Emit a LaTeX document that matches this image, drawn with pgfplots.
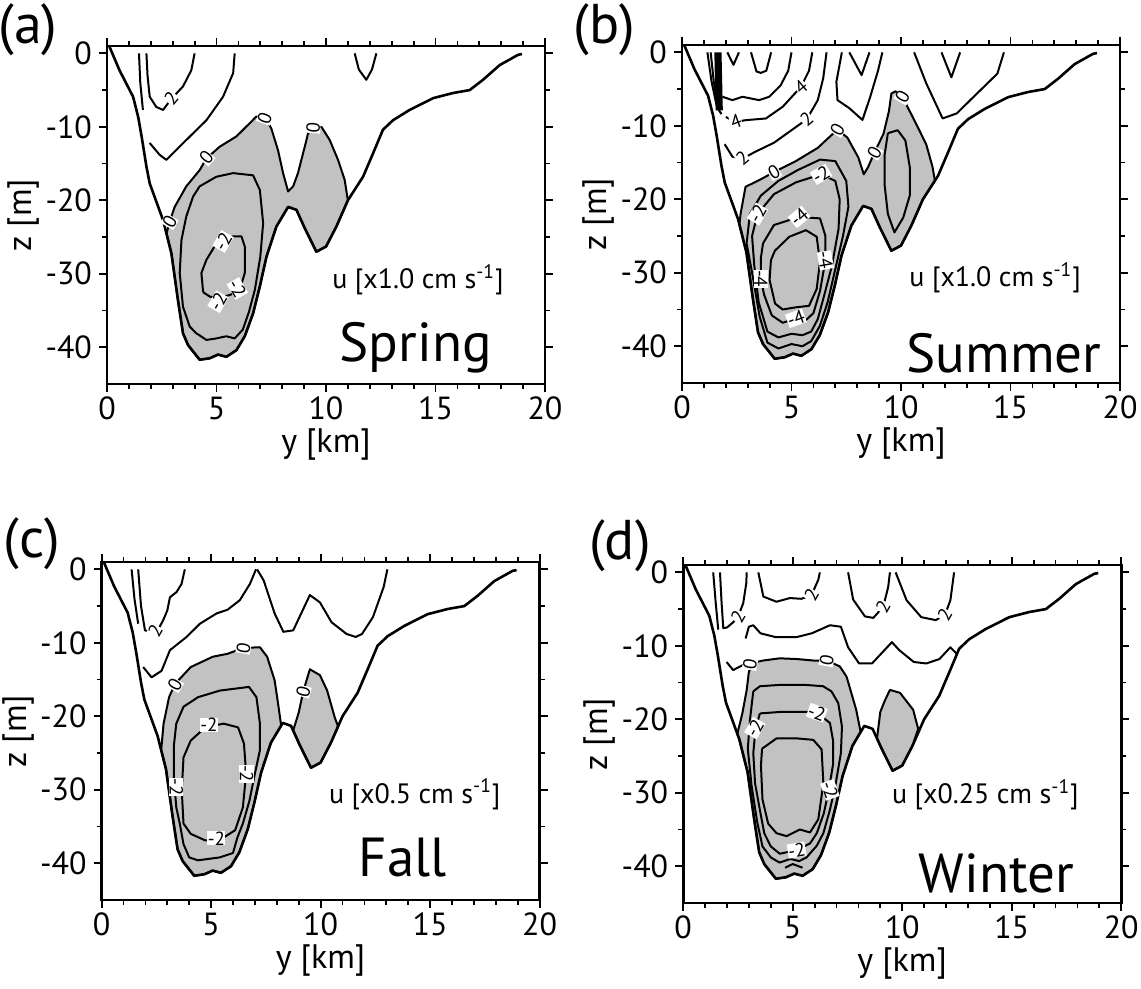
\documentclass[border=0pt]{standalone}
\usepackage{pgfplots}
\pgfplotsset{compat=1.18}
\usepackage{pgfplotstable}
\usepackage{fontspec}
\setmainfont{PT Sans}

\definecolor{shade}{gray}{0.76}

% bottom topography, shared by the four panels
\pgfplotstableread{
y z
0.10 1.0
0.57 -2.3
1.19 -5.9
1.42 -8.6
1.58 -11.3
1.80 -15.4
1.95 -17.7
2.56 -22.7
2.94 -27.2
3.24 -33.6
3.47 -38.1
3.70 -39.7
4.23 -41.7
4.69 -41.5
5.07 -41.0
5.45 -41.3
5.91 -40.4
6.29 -38.5
6.67 -35.4
6.98 -31.7
7.28 -27.7
7.73 -23.6
8.27 -20.9
8.65 -21.3
9.03 -23.8
9.56 -27.0
10.00 -26.3
10.47 -23.6
11.00 -20.0
11.69 -16.8
12.15 -13.6
12.60 -10.4
13.06 -9.1
13.82 -7.7
14.89 -6.1
15.80 -5.4
16.56 -5.0
17.17 -3.6
17.93 -1.6
18.77 -0.2
18.95 -0.1
}\bathy

\pgfplotsset{
  panel/.style={
    scale only axis, width=219pt, height=169pt,
    anchor=north west,
    xmin=0, xmax=20, ymin=-45, ymax=1,
    xtick={0,5,...,20}, ytick={-40,-30,...,0},
    minor x tick num=4, minor y tick num=1,
    tick align=outside, tick pos=both,
    major tick length=4pt, minor tick length=2.5pt,
    tick style={black, line width=0.9pt},
    axis line style={line width=1.4pt},
    /pgf/number format/assume math mode=true,
    ticklabel style={font=\fontsize{16}{16}\selectfont},
    xticklabel style={yshift=1pt},
    label style={font=\fontsize{17}{17}\selectfont},
    xlabel={y [km]}, ylabel={z [m]},
    xlabel style={at={(axis description cs:0.5,-0.18)}, anchor=center},
    ylabel style={at={(axis description cs:-0.19,0.5)}, anchor=center},
  },
  cont/.style={black, line width=1pt, line join=round, mark=none},
  zero/.style={fill=shade, draw=black, line width=1pt, line join=round, mark=none},
  bot/.style={black, line width=1.3pt, line join=round, mark=none},
}
\tikzset{
  lbl/.style={fill=white, inner sep=0.2pt, font=\fontsize{9.5}{9.5}\selectfont},
  unit/.style={font=\fontsize{14}{14}\selectfont},
  season/.style={font=\fontsize{27.5}{27.5}\selectfont},
  plabel/.style={font=\fontsize{28}{28}\selectfont},
}

\begin{document}
\begin{tikzpicture}
\useasboundingbox (0,0) rectangle (570.5pt,-494.5pt);

%% (a) Spring
\begin{axis}[panel, at={(53.5pt,-23pt)}]
\addplot[zero] coordinates {(2.72,-24.5)(2.86,-22.9)(3.09,-20.9)(3.62,-18.1)(4.23,-15.9)(4.54,-14.3)(5.15,-12.7)(5.91,-11.3)(6.52,-9.5)(6.82,-8.6)(7.2,-8.7)(7.5,-10.2)(7.81,-13.2)(8.04,-16.3)(8.27,-18.8)(8.5,-18.1)(8.72,-16.3)(9.03,-12.7)(9.18,-10.9)(9.41,-10.1)(9.79,-10.0)(10.17,-11.8)(10.55,-14.5)(10.85,-17.2)(11.0,-20.0)(10.47,-23.6)(10.0,-26.3)(9.56,-27.0)(9.03,-23.8)(8.65,-21.3)(8.27,-20.9)(7.73,-23.6)(7.28,-27.7)(6.98,-31.7)(6.67,-35.4)(6.29,-38.5)(5.91,-40.4)(5.45,-41.3)(5.07,-41.0)(4.69,-41.5)(4.23,-41.7)(3.7,-39.7)(3.47,-38.1)(3.24,-33.6)(2.94,-27.2)} -- cycle;
\addplot[cont] coordinates {(1.46,0)(1.52,-4)(1.64,-7.7)};
\addplot[cont] coordinates {(1.8,0)(1.85,-3)(1.95,-5.9)(2.25,-7.3)(2.56,-7.7)(2.94,-6.2)(3.47,-4.5)(3.85,-2.3)(4.0,0)};
\addplot[cont] coordinates {(5.83,0)(5.76,-2.7)(5.3,-5.9)(4.54,-9.1)(3.62,-11.8)(2.71,-14.5)(2.4,-13.8)(1.95,-12.2)};
\addplot[cont] coordinates {(11.31,0)(11.5,-2.2)(11.84,-3.6)(12.1,-2.2)(12.3,0)};
\addplot[cont] coordinates {(4.23,-18.1)(4.99,-16.8)(5.76,-16.3)(6.67,-16.6)(6.98,-18.6)(7.13,-23.1)(7.0,-27.7)(6.75,-32.2)(6.48,-35.2)(6.2,-37.6)(5.83,-38.8)(5.45,-38.5)(4.99,-38.8)(4.54,-39.0)(4.08,-38.1)(3.78,-37.2)(3.47,-34.5)(3.32,-29.9)(3.4,-25.4)(3.62,-22.2)(3.93,-19.5)(4.23,-18.1)};
\addplot[cont] coordinates {(4.39,-32.5)(4.31,-29.9)(4.54,-28.1)(4.99,-25.9)(5.3,-25.4)(5.76,-24.9)(6.14,-24.9)(6.29,-26.3)(6.29,-29.9)(6.06,-32.2)(5.6,-32.9)(5.07,-33.3)(4.69,-33.1)(4.39,-32.5)};
\addplot[bot] table[x=y, y=z] {\bathy};
\node[lbl, rotate=50] at (axis cs:2.94,-6.1) {2};
\node[lbl, rotate=60] at (axis cs:2.86,-22.9) {0};
\node[lbl, rotate=50] at (axis cs:4.54,-14.2) {0};
\node[lbl, rotate=70] at (axis cs:7.2,-8.8) {0};
\node[lbl, rotate=85] at (axis cs:9.41,-10.1) {0};
\node[lbl, rotate=60] at (axis cs:5.3,-25.6) {-2};
\node[lbl, rotate=-60] at (axis cs:5.95,-32.0) {-2};
\node[lbl, rotate=60] at (axis cs:5.07,-33.8) {-2};
\node[unit] at (axis cs:14.2,-30.8) {u [x1.0 cm s\textsuperscript{-1}]};
\node[season] at (axis cs:14.1,-40.0) {Spring};
\end{axis}
\node[plabel] at (14pt,-15pt) {(a)};

%% (b) Summer
\begin{axis}[panel, at={(341pt,-22.5pt)}]
\addplot[zero] coordinates {(2.62,-23.4)(2.68,-21.9)(2.9,-18.3)(3.52,-17.4)(4.2,-16.3)(5.2,-14.8)(6.2,-13.0)(7.1,-10.5)(7.55,-11.6)(8.05,-14.3)(8.3,-16.6)(8.5,-15.6)(8.79,-13.6)(9.2,-11.1)(9.45,-8)(9.56,-5.6)(9.75,-5.3)(10.07,-6.1)(10.55,-8.9)(11.15,-12.5)(11.44,-15.6)(11.55,-17.5)(11.0,-20.0)(10.47,-23.6)(10.0,-26.3)(9.56,-27.0)(9.03,-23.8)(8.65,-21.3)(8.27,-20.9)(7.73,-23.6)(7.28,-27.7)(6.98,-31.7)(6.67,-35.4)(6.29,-38.5)(5.91,-40.4)(5.45,-41.3)(5.07,-41.0)(4.69,-41.5)(4.23,-41.7)(3.7,-39.7)(3.47,-38.1)(3.24,-33.6)(2.94,-27.2)} -- cycle;
% crowded lines near the left bank
\addplot[cont] coordinates {(1.16,0)(1.35,-4)(1.6,-7.5)(1.8,-8.4)};
\addplot[cont] coordinates {(1.31,0)(1.45,-4)(1.6,-7.0)};
\addplot[black, line width=3.6pt] coordinates {(1.64,0)(1.70,-7.9)};
\addplot[cont] coordinates {(2.07,0)(2.35,-1.7)(2.6,0)};
\addplot[cont] coordinates {(3.15,0)(3.4,-2.6)(3.6,-2.8)(3.85,-2.5)(4.07,0)};
\addplot[cont] coordinates {(1.85,-6.05)(2.3,-6.5)(2.76,-6.05)(3.52,-6.5)(3.98,-6.05)(4.5,-4.5)(4.85,-2.5)(5.0,0)};
\addplot[cont] coordinates {(2.0,-8.8)(2.46,-9.46)(2.91,-9.23)(3.83,-9.0)(4.6,-7.4)(5.43,-4.7)(5.8,-2.5)(5.95,0)};
\addplot[cont] coordinates {(1.95,-12.5)(2.3,-14.2)(2.76,-14.5)(3.3,-13.6)(4.2,-12.3)(5.0,-10.6)(5.7,-9.1)(6.2,-6.5)(6.45,-3.5)(6.6,0)};
\addplot[cont] coordinates {(7.3,0)(7.05,-4)(7.1,-6.5)(7.64,-7.6)(8.24,-9.2)(8.6,-6)(8.95,-2.5)(9.15,0)};
\addplot[cont] coordinates {(7.64,0)(8.2,-3.1)(8.56,0)};
\addplot[cont] coordinates {(10.6,0)(11.15,-4.2)(11.9,-9)(12.55,-8.3)(13.3,-6.1)(14.4,-2.9)(14.7,0)};
\addplot[cont] coordinates {(11.85,0)(12.3,-3.4)(12.7,0)};
% negative core
\addplot[cont] coordinates {(2.95,-26)(3.1,-22)(3.6,-19.5)(4.4,-17.5)(5.3,-16)(6.3,-14.6)(7.0,-14.8)(7.5,-17.5)(7.6,-21)(7.35,-25)(7.0,-29.5)(6.65,-34)(6.3,-37.2)(5.9,-39.3)(5.5,-40)(5.0,-39.7)(4.4,-40.3)(3.9,-39.5)(3.55,-36)(3.2,-30)(2.95,-26)};
\addplot[cont] coordinates {(3.2,-25)(3.45,-22)(4.2,-19.3)(5.2,-17.7)(6.35,-16.6)(7.0,-17.5)(7.2,-20)(7.15,-24)(6.85,-29)(6.5,-33)(6.2,-36.3)(5.9,-38)(5.5,-38.5)(5.0,-38.3)(4.4,-38.8)(3.9,-38)(3.5,-34)(3.3,-29)(3.2,-25)};
\addplot[cont] coordinates {(3.7,-26)(4.2,-23.5)(5.35,-22.4)(6.3,-22.6)(6.55,-25)(6.55,-28.3)(6.3,-32.5)(6.0,-35.5)(5.6,-36.6)(5.2,-36.2)(4.6,-36.8)(4.1,-35.8)(3.75,-33)(3.6,-30.8)(3.6,-28)(3.7,-26)};
\addplot[cont] coordinates {(4.06,-28.3)(4.24,-27)(4.9,-25.1)(5.66,-24.2)(6.15,-25.1)(6.3,-28.5)(6.15,-32.2)(5.8,-34.5)(5.2,-34.7)(4.6,-35)(4.25,-34.2)(4.0,-31)(4.06,-28.3)};
\addplot[cont] coordinates {(9.4,-11)(9.85,-10.6)(10.2,-12)(10.4,-15.6)(10.4,-19.5)(10.1,-22.5)(9.7,-24.5)(9.4,-22)(9.25,-18)(9.25,-14)(9.4,-11)};
\addplot[bot] table[x=y, y=z] {\bathy};
\node[lbl, rotate=20] at (axis cs:2.46,-9.4) {4};
\node[lbl, rotate=40] at (axis cs:5.43,-4.7) {4};
\node[lbl, rotate=40] at (axis cs:2.76,-14.4) {2};
\node[lbl, rotate=40] at (axis cs:5.7,-9.1) {2};
\node[lbl, rotate=30] at (axis cs:4.2,-16.3) {0};
\node[lbl, rotate=60] at (axis cs:7.1,-10.5) {0};
\node[lbl, rotate=60] at (axis cs:8.79,-13.6) {0};
\node[lbl, rotate=60] at (axis cs:10.07,-6.1) {0};
\node[lbl, rotate=60] at (axis cs:3.45,-22) {-2};
\node[lbl, rotate=30] at (axis cs:6.35,-16.6) {-2};
\node[lbl, rotate=40] at (axis cs:5.35,-22.4) {-4};
\node[lbl, rotate=-80] at (axis cs:6.55,-28.3) {-4};
\node[lbl, rotate=-90] at (axis cs:3.6,-30.8) {-4};
\node[lbl, rotate=20] at (axis cs:5.2,-36.2) {-4};
\node[unit] at (axis cs:14.3,-30.7) {u [x1.0 cm s\textsuperscript{-1}]};
\node[season] at (axis cs:14.7,-40.9) {Summer};
\end{axis}
\node[plabel] at (302pt,-15pt) {(b)};

%% (c) Fall
\begin{axis}[panel, at={(50.8pt,-281pt)}]
\addplot[zero] coordinates {(2.72,-24.6)(2.83,-21.0)(3.08,-17.4)(3.35,-15.6)(4.07,-13.3)(5.07,-11.9)(5.74,-11.5)(6.48,-10.7)(7.23,-10.6)(7.56,-11.9)(7.9,-15.1)(8.06,-18.3)(8.2,-21.3)(7.73,-23.6)(7.28,-27.7)(6.98,-31.7)(6.67,-35.4)(6.29,-38.5)(5.91,-40.4)(5.45,-41.3)(5.07,-41.0)(4.69,-41.5)(4.23,-41.7)(3.7,-39.7)(3.47,-38.1)(3.24,-33.6)(2.94,-27.2)} -- cycle;
\addplot[zero] coordinates {(8.75,-21.9)(9.0,-19.5)(9.21,-16.6)(9.51,-13.6)(9.97,-14.4)(10.3,-16.5)(10.65,-20.2)(10.8,-21.4)(10.47,-23.6)(10.0,-26.3)(9.56,-27.0)(9.03,-23.8)} -- cycle;
\addplot[cont] coordinates {(1.37,0)(1.5,-4)(1.67,-7.4)};
\addplot[cont] coordinates {(1.67,0)(1.8,-5)(1.98,-8.3)(2.3,-8.6)(2.56,-8.3)(2.8,-7)(3.0,-5.6)(3.12,-3.8)(3.42,-3.1)(3.65,-2.0)(3.8,0)};
\addplot[cont] coordinates {(1.9,-13.3)(2.28,-14.7)(2.74,-13.8)(3.12,-11.0)(3.88,-9.2)(4.49,-7.4)(5.25,-6.0)(5.75,-5.5)(6.31,-4.2)(6.77,-2.0)(7.05,0)};
\addplot[cont] coordinates {(7.1,0)(7.4,-1.5)(7.9,-6)(8.3,-8.5)(8.75,-8.3)(9.51,-3.5)(9.97,-4.5)(10.5,-7.2)(11.19,-8.8)(11.6,-9.2)(11.89,-8.8)(12.39,-6.5)(12.88,-2.4)(13.05,0)};
\addplot[cont] coordinates {(3.41,-21.0)(3.74,-18.7)(4.4,-17.4)(5.4,-16.5)(6.73,-16.0)(7.07,-17.4)(7.23,-21.0)(7.23,-24.6)(7.0,-27.8)(6.75,-31.5)(6.45,-34.6)(6.2,-36.5)(6.0,-38.6)(5.4,-39.2)(4.9,-39.4)(4.4,-39.6)(4.0,-39.2)(3.74,-37.4)(3.57,-34.6)(3.41,-32.4)(3.3,-28.3)(3.3,-24)(3.41,-21.0)};
\addplot[cont] coordinates {(3.74,-34.6)(3.66,-30.1)(3.74,-25.6)(4.07,-23.3)(4.74,-21.5)(5.57,-21.0)(6.23,-21.5)(6.5,-23.7)(6.6,-27.8)(6.45,-32.4)(6.1,-35.5)(5.57,-36.5)(4.74,-36.9)(4.07,-36.0)(3.74,-34.6)};
\addplot[bot] table[x=y, y=z] {\bathy};
\node[lbl, rotate=60] at (axis cs:2.45,-8.4) {2};
\node[lbl, rotate=60] at (axis cs:3.35,-15.7) {0};
\node[lbl, rotate=80] at (axis cs:6.48,-10.7) {0};
\node[lbl, rotate=75] at (axis cs:9.21,-16.6) {0};
\node[lbl] at (axis cs:4.9,-21.2) {-2};
\node[lbl, rotate=-90] at (axis cs:6.62,-27.8) {-2};
\node[lbl, rotate=-90] at (axis cs:3.41,-29.6) {-2};
\node[lbl] at (axis cs:5.24,-36.6) {-2};
\node[unit] at (axis cs:14.3,-30.6) {u [x0.5 cm s\textsuperscript{-1}]};
\node[season] at (axis cs:13.75,-39.2) {Fall};
\end{axis}
\node[plabel] at (16pt,-272pt) {(c)};

%% (d) Winter
\begin{axis}[panel, at={(341.6pt,-282.5pt)}]
\addplot[zero] coordinates {(2.47,-22.0)(2.7,-19.2)(2.9,-16)(3.0,-13.5)(3.2,-12.3)(3.65,-12.0)(4.41,-11.7)(5.2,-11.8)(5.94,-12.0)(6.55,-12.0)(7.15,-12.8)(7.46,-14.2)(7.9,-18.7)(8.1,-21.7)(7.73,-23.6)(7.28,-27.7)(6.98,-31.7)(6.67,-35.4)(6.29,-38.5)(5.91,-40.4)(5.45,-41.3)(5.07,-41.0)(4.69,-41.5)(4.23,-41.7)(3.7,-39.7)(3.47,-38.1)(3.24,-33.6)(2.94,-27.2)(2.56,-22.7)} -- cycle;
\addplot[zero] coordinates {(8.85,-22.6)(9.0,-19.0)(9.2,-17.5)(9.44,-16.0)(9.9,-16.4)(10.5,-18.7)(10.73,-21.3)(10.47,-23.6)(10.0,-26.3)(9.56,-27.0)(9.03,-23.8)} -- cycle;
\addplot[cont] coordinates {(1.37,0)(1.48,-4)(1.6,-7.8)};
\addplot[cont] coordinates {(1.68,0)(1.75,-4)(1.83,-7.6)(2.0,-7.5)(2.28,-6.8)(2.51,-6.0)(2.74,-4.2)(2.88,-1.5)(2.9,0)};
\addplot[cont] coordinates {(3.43,0)(3.66,-3.3)(4.26,-4.0)(4.87,-3.5)(5.4,-3.6)(5.86,-3.1)(6.17,-1.0)(6.24,0)};
\addplot[cont] coordinates {(7.53,0)(7.76,-3.7)(8.3,-6.0)(8.68,-6.2)(9.13,-4.7)(9.36,-2.0)(9.44,0)};
\addplot[cont] coordinates {(9.7,0)(10.2,-3.8)(10.87,-6.1)(11.53,-6.5)(11.95,-5.8)(12.2,-3.8)(12.37,0)};
\addplot[cont] coordinates {(2.85,-9.0)(3.0,-7.4)(3.2,-7.2)(3.53,-8.3)(4.2,-8.8)(5.2,-8.8)(5.87,-8.3)(6.7,-7.2)(7.2,-7.4)(7.53,-10.2)(8.03,-12.4)(8.62,-12.4)(9.03,-11.1)(9.53,-9.5)(9.87,-10.6)(10.53,-12.2)(11.1,-12.4)(11.7,-11.8)(12.2,-10.2)(12.5,-11.1)};
\addplot[cont] coordinates {(1.98,-12.2)(2.28,-13.3)(2.74,-12.6)};
\addplot[cont] coordinates {(3.2,-16.2)(3.5,-15.5)(4.5,-15.3)(5.5,-15.3)(6.39,-15.5)(6.77,-16.2)(7.08,-17.8)(7.25,-21)(7.2,-24.6)(6.95,-29)(6.7,-32.3)(6.4,-35.5)(6.1,-37.2)(5.63,-38.8)(5.3,-39.3)(4.9,-39.0)(4.4,-39.5)(4.0,-38.8)(3.62,-37.3)(3.38,-34)(3.12,-29)(2.95,-24)(3.05,-20)(3.2,-16.2)};
\addplot[cont] coordinates {(3.5,-19.2)(4.41,-19.0)(5.79,-19.0)(6.24,-19.4)(6.7,-20.5)(6.85,-23)(6.85,-26)(6.65,-29.6)(6.42,-32.8)(6.1,-35.5)(5.79,-36.9)(5.18,-37.8)(4.41,-38.3)(4.0,-37.3)(3.7,-35.5)(3.5,-32.3)(3.28,-28.7)(3.2,-24.6)(3.3,-21.4)(3.5,-19.2)};
\addplot[cont] coordinates {(3.6,-24)(4.26,-22.6)(5.2,-22.6)(5.94,-22.8)(6.32,-24.1)(6.4,-28.7)(6.17,-33.6)(5.79,-35.4)(5.33,-35.0)(4.72,-35.9)(4.26,-35.5)(3.88,-34.2)(3.62,-30.9)(3.55,-26.3)(3.6,-24)};
\addplot[cont] coordinates {(4.65,-40.2)(5.0,-39.7)(5.45,-40.2)};
\addplot[bot] table[x=y, y=z] {\bathy};
\node[lbl, rotate=60] at (axis cs:2.51,-6.0) {2};
\node[lbl, rotate=60] at (axis cs:5.86,-3.1) {2};
\node[lbl, rotate=60] at (axis cs:9.13,-4.7) {2};
\node[lbl, rotate=60] at (axis cs:11.95,-5.8) {2};
\node[lbl, rotate=80] at (axis cs:3.05,-12.5) {0};
\node[lbl, rotate=80] at (axis cs:6.55,-12.0) {0};
\node[lbl, rotate=-20] at (axis cs:6.1,-19.1) {-2};
\node[lbl, rotate=60] at (axis cs:3.27,-21.2) {-2};
\node[lbl, rotate=-70] at (axis cs:6.7,-29.6) {-2};
\node[lbl, rotate=10] at (axis cs:5.18,-37.8) {-2};
\node[unit] at (axis cs:13.8,-30.3) {u [x0.25 cm s\textsuperscript{-1}]};
\node[season] at (axis cs:14.3,-40.9) {Winter};
\end{axis}
\node[plabel] at (310pt,-273pt) {(d)};

\end{tikzpicture}
\end{document}
